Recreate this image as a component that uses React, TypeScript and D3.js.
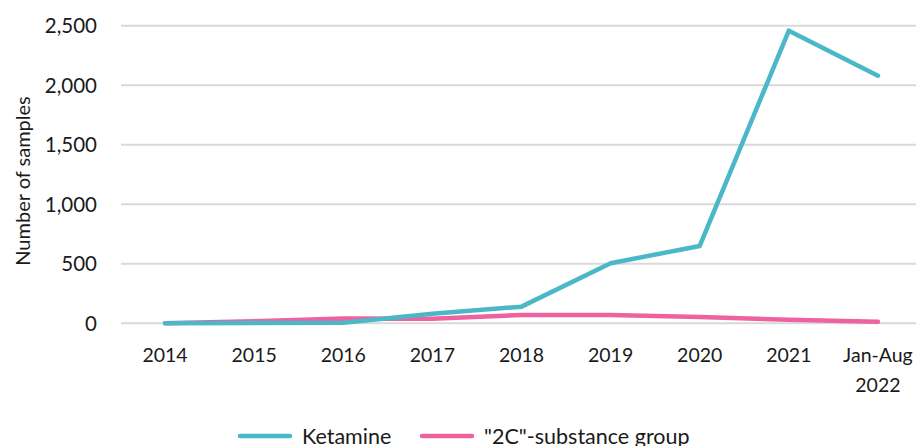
import * as React from 'react';
import { useEffect, useRef } from 'react';
import * as d3 from 'd3';

const categories = ['2014', '2015', '2016', '2017', '2018', '2019', '2020', '2021', 'Jan-Aug\n2022'];
const ketamine = [0, 3, 5, 80, 140, 505, 650, 2458, 2080];
const twoC = [0, 18, 40, 38, 70, 70, 52, 30, 13];
const yTicks = [0, 500, 1000, 1500, 2000, 2500];
const seriesNames = ['Ketamine', '"2C"-substance group'];
const seriesColors = ['#4bb8c7', '#ee62a0'];

export default function App() {
    const svgRef = useRef<SVGSVGElement>(null);

    useEffect(() => {
        if (!svgRef.current) return;
        const width = 916;
        const font = 'Lato, "Open Sans", sans-serif';

        const svg = d3.select(svgRef.current);
        svg.selectAll('*').remove();

        const x = d3.scaleBand()
            .domain(categories)
            .range([120.5, 922.5]);

        const y = d3.scaleLinear()
            .domain([0, 2500])
            .range([323.3, 25.7]);

        const cx = (c: string) => (x(c) as number) + x.bandwidth() / 2;

        // grid lines
        svg.append('g')
            .selectAll('line')
            .data(yTicks)
            .enter().append('line')
            .attr('x1', 121)
            .attr('x2', width)
            .attr('y1', d => y(d))
            .attr('y2', d => y(d))
            .attr('stroke', '#d9d9d9')
            .attr('stroke-width', 2);

        // y tick labels
        svg.append('g')
            .selectAll('text')
            .data(yTicks)
            .enter().append('text')
            .attr('x', 97)
            .attr('y', d => y(d))
            .attr('dy', '0.36em')
            .attr('text-anchor', 'end')
            .attr('font-family', font)
            .attr('font-size', 20.5)
            .attr('fill', '#1a1a1a')
            .text(d => d3.format(',')(d));

        // x tick labels
        const xl = svg.append('g')
            .selectAll('text')
            .data(categories)
            .enter().append('text')
            .attr('x', d => cx(d))
            .attr('y', 362)
            .attr('text-anchor', 'middle')
            .attr('font-family', font)
            .attr('font-size', 19.5)
            .attr('fill', '#1a1a1a');
        xl.each(function (d) {
            const parts = d.split('\n');
            d3.select(this).selectAll('tspan')
                .data(parts)
                .enter().append('tspan')
                .attr('x', cx(d))
                .attr('dy', (_, i) => (i === 0 ? 0 : 29.5))
                .text(p => p);
        });

        // y axis title
        svg.append('text')
            .attr('transform', `translate(30,181) rotate(-90)`)
            .attr('text-anchor', 'middle')
            .attr('font-family', font)
            .attr('font-size', 20)
            .attr('fill', '#1a1a1a')
            .text('Number of samples');

        const line = d3.line<number>()
            .x((_, i) => cx(categories[i]))
            .y(d => y(d));

        [twoC, ketamine].forEach(s => {
            const idx = s === ketamine ? 0 : 1;
            svg.append('path')
                .datum(s)
                .attr('fill', 'none')
                .attr('stroke', seriesColors[idx])
                .attr('stroke-width', 4.5)
                .attr('stroke-linecap', 'round')
                .attr('stroke-linejoin', 'round')
                .attr('d', line);
        });

        // legend
        const legendX = [240, 422];
        seriesNames.forEach((name, i) => {
            svg.append('line')
                .attr('x1', legendX[i])
                .attr('x2', legendX[i] + 50)
                .attr('y1', 436)
                .attr('y2', 436)
                .attr('stroke', seriesColors[i])
                .attr('stroke-width', 4.5)
                .attr('stroke-linecap', 'round');
            svg.append('text')
                .attr('x', legendX[i] + 62)
                .attr('y', 436)
                .attr('dy', '0.36em')
                .attr('font-family', font)
                .attr('font-size', 21.5)
                .attr('fill', '#1a1a1a')
                .text(name);
        });
    }, []);

    return (
        <div style={{ position: 'fixed', left: 0, top: 0, width: 916, height: 446, background: '#fff' }}>
            <svg ref={svgRef} width={916} height={446}></svg>
        </div>
    );
}
